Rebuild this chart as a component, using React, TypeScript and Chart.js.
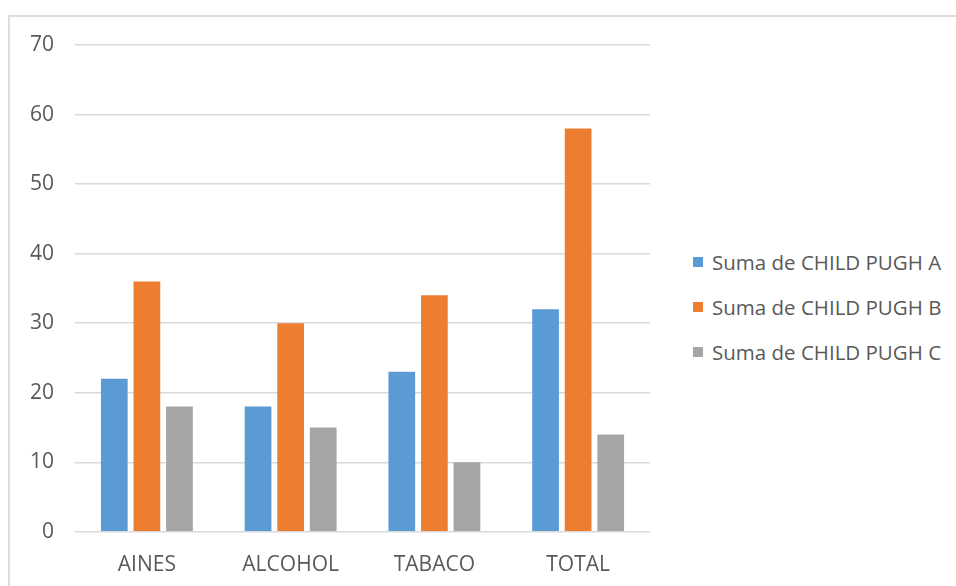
import React, { useEffect, useRef } from "react";
import { Chart, registerables } from "chart.js";

Chart.register(...registerables);

const categories = ["AINES", "ALCOHOL", "TABACO", "TOTAL"];
const seriesNames = [
  "Suma de CHILD PUGH A",
  "Suma de CHILD PUGH B",
  "Suma de CHILD PUGH C",
];
const pughA = [22, 18, 23, 32];
const pughB = [36, 30, 34, 58];
const pughC = [18, 15, 10, 14];
const seriesColors = ["#5b9bd5", "#ed7d31", "#a5a5a5"];
const yTicks = [0, 10, 20, 30, 40, 50, 60, 70];

const FONT = "'Open Sans', sans-serif";
const TEXT = "#595959";

export default function App() {
  const canvasRef = useRef<HTMLCanvasElement | null>(null);

  useEffect(() => {
    if (!canvasRef.current) return;
    const values = [pughA, pughB, pughC];
    const chart = new Chart(canvasRef.current, {
      type: "bar",
      data: {
        labels: categories,
        datasets: seriesNames.map((name, i) => ({
          label: name,
          data: values[i],
          backgroundColor: seriesColors[i],
          borderWidth: 0,
          categoryPercentage: 0.68,
          barPercentage: 0.82,
        })),
      },
      options: {
        responsive: false,
        animation: false,
        layout: { padding: { top: 28, right: 19, bottom: 0, left: 0 } },
        plugins: {
          legend: { display: false },
          tooltip: { enabled: false },
        },
        scales: {
          x: {
            grid: { display: false, drawTicks: false },
            border: { display: false },
            ticks: {
              color: TEXT,
              padding: 21,
              font: { family: FONT, size: 21 },
            },
            afterFit: (scale: any) => {
              scale.paddingLeft = 0;
              scale.paddingRight = 0;
            },
          },
          y: {
            min: 0,
            max: 70,
            afterBuildTicks: (axis: any) => {
              axis.ticks = yTicks.map((v) => ({ value: v }));
            },
            afterFit: (scale: any) => {
              scale.paddingTop = 0;
              scale.paddingBottom = 0;
            },
            grid: { color: "#d9d9d9", lineWidth: 1.5, drawTicks: false },
            border: { display: false },
            ticks: {
              color: TEXT,
              padding: 21,
              font: { family: FONT, size: 21 },
            },
          },
        },
      },
    });
    return () => chart.destroy();
  }, []);

  return (
    <div
      style={{
        position: "absolute",
        left: 8,
        top: 15,
        width: 960,
        height: 580,
        border: "2px solid #dedede",
        background: "#fff",
        fontFamily: FONT,
      }}
    >
      <canvas
        ref={canvasRef}
        width={660}
        height={582}
        style={{ position: "absolute", left: -1, top: 0 }}
      />
      <div style={{ position: "absolute", left: 683, top: 222 }}>
        {seriesNames.map((name, i) => (
          <div
            key={name}
            style={{
              display: "flex",
              alignItems: "center",
              height: 45,
              color: TEXT,
              fontSize: 20.5,
              whiteSpace: "nowrap",
            }}
          >
            <span
              style={{
                display: "inline-block",
                width: 10,
                height: 10,
                background: seriesColors[i],
                marginRight: 9,
              }}
            />
            {name}
          </div>
        ))}
      </div>
    </div>
  );
}
